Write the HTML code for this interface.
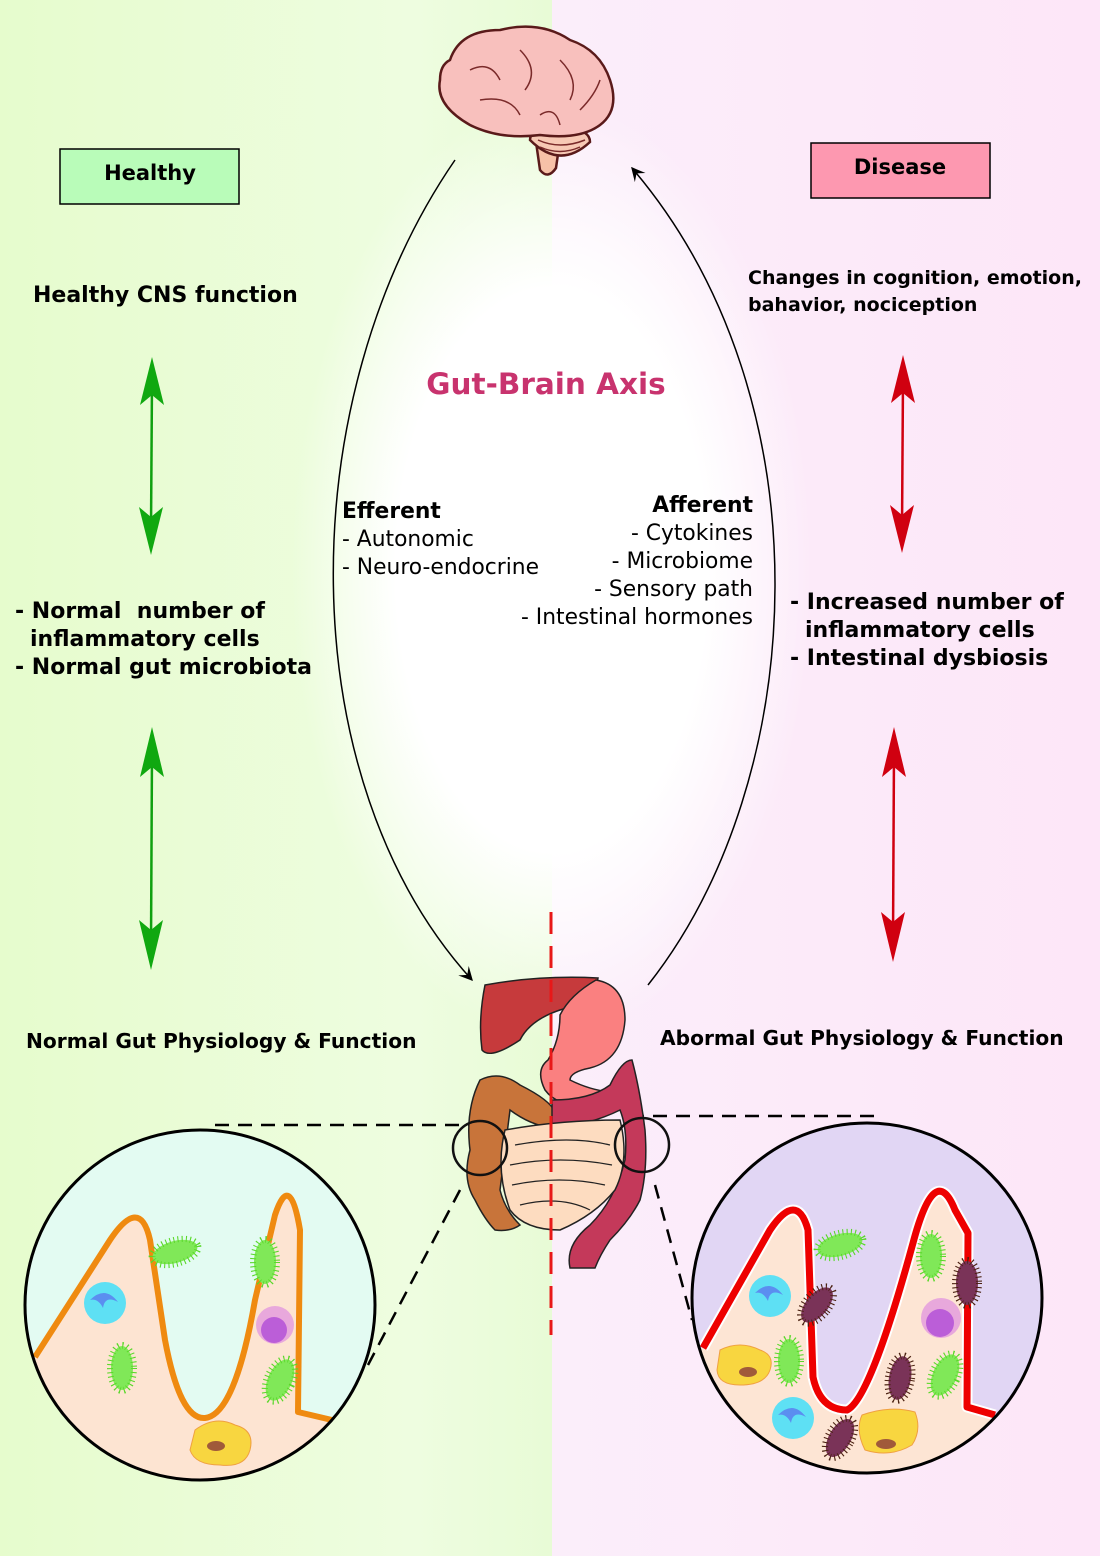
<!DOCTYPE html>
<html><head><meta charset="utf-8"><style>
body{margin:0;width:1100px;height:1556px;overflow:hidden;font-family:"Liberation Sans","DejaVu Sans",sans-serif}
text{font-family:"DejaVu Sans","Liberation Sans",sans-serif}
</style></head><body>
<svg width="1100" height="1556" viewBox="0 0 1100 1556" xmlns="http://www.w3.org/2000/svg">
<defs>
<linearGradient id="gl" x1="0" x2="1"><stop offset="0" stop-color="#e6fccd"/><stop offset="0.75" stop-color="#eefde0"/><stop offset="1" stop-color="#e8fbd6"/></linearGradient>
<linearGradient id="gr" x1="0" x2="1"><stop offset="0" stop-color="#fbeefa"/><stop offset="1" stop-color="#fde6f8"/></linearGradient>
<radialGradient id="glow" cx="0.5" cy="0.5" r="0.5"><stop offset="0.6" stop-color="#fff" stop-opacity="1"/><stop offset="1" stop-color="#fff" stop-opacity="0"/></radialGradient>
<clipPath id="cl"><circle cx="200" cy="1305" r="175"/></clipPath>
<clipPath id="cr"><circle cx="867" cy="1298" r="175"/></clipPath>
<marker id="ah" viewBox="0 0 10 10" refX="9" refY="5" markerWidth="14" markerHeight="14" orient="auto-start-reverse" markerUnits="userSpaceOnUse"><path d="M0,0 L10,5 L0,10 L4,5 Z" fill="#000"/></marker>
</defs>
<rect x="0" y="0" width="552" height="1556" fill="url(#gl)"/>
<rect x="552" y="0" width="548" height="1556" fill="url(#gr)"/>
<ellipse cx="552" cy="570" rx="260" ry="470" fill="url(#glow)"/>
<path d="M455,160 C290,400 290,780 472,980" fill="none" stroke="#000" stroke-width="1.5" marker-end="url(#ah)"/>
<path d="M648,985 C810,780 830,400 632,168" fill="none" stroke="#000" stroke-width="1.5" marker-end="url(#ah)"/>
<g stroke="#5a1a1a" stroke-width="2.5">
<path d="M535,135 L540,170 Q548,180 556,168 L560,140 Z" fill="#f7c1a8"/>
<path d="M530,140 Q560,170 590,142 Q590,128 560,128 Q530,128 530,140 Z" fill="#f7c9b5"/>
<path d="M450,60 Q460,30 500,30 Q540,20 570,40 Q600,50 610,80 Q620,110 600,125 Q580,140 540,135 Q500,140 470,125 Q435,105 440,80 Q440,65 450,60 Z" fill="#f8c0bd"/>
</g>
<g stroke="#7a2a2a" stroke-width="1.5" fill="none"><path d="M470,70 Q490,60 500,80"/><path d="M520,50 Q540,70 525,90"/><path d="M560,60 Q580,80 570,100"/><path d="M480,100 Q510,95 520,115"/><path d="M580,110 Q595,95 600,80"/><path d="M540,115 Q555,105 560,125"/><path d="M538,140 Q560,150 585,140"/><path d="M540,147 Q560,156 580,147"/></g>
<rect x="60" y="149" width="179" height="55" fill="#b9fcb9" stroke="#000" stroke-width="1.5"/>
<text x="150" y="180" font-size="21" font-weight="bold" text-anchor="middle">Healthy</text>
<rect x="811" y="143" width="179" height="55" fill="#fd98b0" stroke="#000" stroke-width="1.5"/>
<text x="900" y="174" font-size="21" font-weight="bold" text-anchor="middle">Disease</text>
<text x="33" y="302" font-size="22" font-weight="bold">Healthy CNS function</text>
<text x="748" y="284" font-size="19" font-weight="bold">Changes in cognition, emotion,</text>
<text x="748" y="311" font-size="19" font-weight="bold">bahavior, nociception</text>
<text x="546" y="394" font-size="29.5" font-weight="bold" fill="#c8336e" text-anchor="middle">Gut-Brain Axis</text>
<g font-size="21.8">
<text x="342" y="518" font-weight="bold">Efferent</text>
<text x="342" y="546">- Autonomic</text>
<text x="342" y="574">- Neuro-endocrine</text>
<text x="753" y="512" font-weight="bold" text-anchor="end">Afferent</text>
<text x="753" y="540" text-anchor="end">- Cytokines</text>
<text x="753" y="568" text-anchor="end">- Microbiome</text>
<text x="753" y="596" text-anchor="end">- Sensory path</text>
<text x="753" y="624" text-anchor="end">- Intestinal hormones</text>
</g>
<g font-size="22" font-weight="bold">
<text x="15" y="618" xml:space="preserve">- Normal  number of</text>
<text x="30" y="646">inflammatory cells</text>
<text x="15" y="674">- Normal gut microbiota</text>
<text x="790" y="609">- Increased number of</text>
<text x="805" y="637">inflammatory cells</text>
<text x="790" y="665">- Intestinal dysbiosis</text>
</g>
<text x="26" y="1048" font-size="20.2" font-weight="bold">Normal Gut Physiology &amp; Function</text>
<text x="660" y="1045" font-size="20.2" font-weight="bold">Abormal Gut Physiology &amp; Function</text>
<g stroke-width="2.5">
<line x1="152" y1="380" x2="151" y2="530" stroke="#10a010"/>
<path d="M152,357 L140,405 L152,395 L164,405 Z M151,555 L139,507 L151,517 L163,507 Z" fill="#10a810"/>
<line x1="152" y1="750" x2="151" y2="945" stroke="#10a010"/>
<path d="M152,727 L140,777 L152,767 L164,777 Z M151,970 L139,920 L151,930 L163,920 Z" fill="#10a810"/>
<line x1="903" y1="378" x2="902" y2="530" stroke="#d00010"/>
<path d="M903,355 L891,403 L903,393 L915,403 Z M902,553 L890,505 L902,515 L914,505 Z" fill="#d00010"/>
<line x1="894" y1="750" x2="893" y2="940" stroke="#d00010"/>
<path d="M894,727 L882,777 L894,767 L906,777 Z M893,962 L881,912 L893,922 L905,912 Z" fill="#d00010"/>
</g>
<g stroke="#000" stroke-width="2.5" stroke-dasharray="14,9" fill="none">
<line x1="215" y1="1125" x2="470" y2="1125"/>
<line x1="460" y1="1190" x2="368" y2="1365"/>
<line x1="630" y1="1116" x2="875" y2="1116"/>
<line x1="655" y1="1185" x2="692" y2="1320"/>
</g>
<g stroke="#222" stroke-width="1.5">
<path d="M485,985 Q540,975 598,978 Q595,1000 560,1010 Q530,1020 520,1040 Q490,1060 482,1050 Q478,1020 485,985 Z" fill="#c63a3c"/>
<path d="M596,980 Q625,985 625,1020 Q622,1060 590,1068 Q570,1072 570,1080 Q590,1090 610,1092 L598,1105 Q560,1110 545,1090 Q535,1070 548,1060 Q560,1040 560,1015 Q570,995 596,980 Z" fill="#fa8080"/>
<path d="M480,1080 Q500,1070 520,1085 Q550,1100 555,1112 L552,1128 Q530,1125 510,1110 L500,1190 Q505,1210 520,1225 Q510,1232 495,1230 Q485,1220 475,1200 Q462,1180 470,1150 Q465,1110 480,1080 Z" fill="#c8743a"/>
<path d="M552,1100 Q590,1100 610,1085 Q622,1060 632,1060 Q640,1090 645,1130 Q648,1170 640,1200 Q630,1220 610,1240 Q600,1255 595,1268 L570,1268 Q565,1245 590,1225 Q615,1200 625,1160 Q628,1130 620,1110 Q590,1125 552,1128 Z" fill="#c4395a"/>
<path d="M505,1130 Q560,1120 620,1120 Q630,1160 615,1190 Q595,1215 560,1230 Q525,1230 510,1210 Q495,1170 505,1130 Z" fill="#fddcc0"/>
</g>
<g stroke="#222" stroke-width="1.2" fill="none"><path d="M515,1145 Q570,1135 610,1145"/><path d="M510,1165 Q560,1155 612,1165"/><path d="M512,1185 Q560,1175 605,1185"/><path d="M520,1205 Q560,1195 590,1210"/></g>
<circle cx="480" cy="1148" r="27" fill="none" stroke="#111" stroke-width="2.5"/>
<circle cx="642" cy="1145" r="27" fill="none" stroke="#111" stroke-width="2.5"/>
<line x1="551" y1="912" x2="551" y2="1335" stroke="#e81818" stroke-width="3" stroke-dasharray="22,12"/>
<g clip-path="url(#cl)">
<rect x="20" y="1125" width="360" height="360" fill="#e3fbf2"/>
<path d="M35,1357 L110,1240 Q140,1195 150,1240 L165,1340 Q180,1420 205,1418 Q235,1415 255,1300 L275,1215 Q290,1170 300,1230 L298,1412 L340,1420 L400,1420 L400,1500 L0,1500 L0,1357 Z" fill="#fde4d2"/>
<path d="M35,1357 L110,1240 Q140,1195 150,1240 L165,1340 Q180,1420 205,1418 Q235,1415 255,1300 L275,1215 Q290,1170 300,1230 L298,1412 L332,1420" fill="none" stroke="#ef8a10" stroke-width="6" stroke-linejoin="round"/>
<circle cx="105" cy="1303" r="21" fill="#5ee0f4"/><path d="M90,1300 Q105,1285 118,1302 Q105,1295 103,1308 Q98,1298 90,1300 Z" fill="#5b8ef0"/>
<circle cx="275" cy="1325" r="19" fill="#e8a8dc"/><circle cx="274" cy="1330" r="13" fill="#bb5ed8"/>
<path d="M195,1430 Q215,1415 235,1425 Q255,1430 250,1450 Q245,1468 220,1465 Q195,1465 190,1450 Z" fill="#f8d640" stroke="#f0a040"/>
<ellipse cx="216" cy="1446" rx="9" ry="5" fill="#a05a3a"/>
<g fill="#80e858" stroke="#58d828" stroke-width="8" stroke-dasharray="1,3">
<ellipse cx="175" cy="1252" rx="23" ry="11" transform="rotate(-15 175 1252)"/>
<ellipse cx="265" cy="1262" rx="11" ry="22"/>
<ellipse cx="122" cy="1368" rx="11" ry="22"/>
<ellipse cx="280" cy="1380" rx="12" ry="22" transform="rotate(25 280 1380)"/>
</g>
<g fill="#80e858"><ellipse cx="175" cy="1252" rx="20" ry="9" transform="rotate(-15 175 1252)"/><ellipse cx="265" cy="1262" rx="9" ry="19"/><ellipse cx="122" cy="1368" rx="9" ry="19"/><ellipse cx="280" cy="1380" rx="10" ry="19" transform="rotate(25 280 1380)"/></g>
</g>
<circle cx="200" cy="1305" r="175" fill="none" stroke="#000" stroke-width="3"/>
<g clip-path="url(#cr)">
<rect x="680" y="1110" width="380" height="380" fill="#e1d6f4"/>
<path d="M703,1348 L770,1230 Q797,1190 808,1230 L813,1377 Q820,1410 847,1410 Q870,1400 913,1243 Q935,1160 955,1210 L968,1233 L967,1407 L995,1415 L1060,1415 L1060,1500 L680,1500 L680,1348 Z" fill="#fde5d4"/>
<path d="M703,1348 L770,1230 Q797,1190 808,1230 L813,1377 Q820,1410 847,1410 Q870,1400 913,1243 Q935,1160 955,1210 L968,1233 L967,1407 L995,1415" fill="none" stroke="#fff" stroke-width="11" stroke-linejoin="round"/>
<path d="M703,1348 L770,1230 Q797,1190 808,1230 L813,1377 Q820,1410 847,1410 Q870,1400 913,1243 Q935,1160 955,1210 L968,1233 L967,1407 L995,1415" fill="none" stroke="#ee0000" stroke-width="7" stroke-linejoin="round"/>
<circle cx="770" cy="1296" r="21" fill="#5ee0f4"/><path d="M755,1293 Q770,1278 783,1295 Q770,1288 768,1301 Q763,1291 755,1293 Z" fill="#5b8ef0"/>
<circle cx="793" cy="1418" r="21" fill="#5ee0f4"/><path d="M778,1415 Q793,1400 806,1417 Q793,1410 791,1423 Q786,1413 778,1415 Z" fill="#5b8ef0"/>
<circle cx="941" cy="1318" r="20" fill="#e8a8dc"/><circle cx="940" cy="1323" r="14" fill="#bb5ed8"/>
<path d="M720,1350 Q740,1340 760,1350 Q775,1355 770,1370 Q765,1385 740,1385 Q718,1385 717,1370 Z" fill="#f8d640" stroke="#f0a040"/>
<ellipse cx="748" cy="1372" rx="9" ry="5" fill="#a05a3a"/>
<path d="M862,1415 Q890,1405 915,1412 Q922,1430 912,1445 Q890,1458 865,1450 Q855,1430 862,1415 Z" fill="#f8d640" stroke="#f0a040"/>
<ellipse cx="886" cy="1444" rx="10" ry="5" fill="#a05a3a"/>
<g fill="#80e858" stroke="#58d828" stroke-width="8" stroke-dasharray="1,3">
<ellipse cx="840" cy="1245" rx="23" ry="11" transform="rotate(-15 840 1245)"/>
<ellipse cx="931" cy="1256" rx="11" ry="22"/>
<ellipse cx="789" cy="1361" rx="11" ry="22"/>
<ellipse cx="945" cy="1375" rx="12" ry="22" transform="rotate(25 945 1375)"/>
</g>
<g fill="#80e858"><ellipse cx="840" cy="1245" rx="20" ry="9" transform="rotate(-15 840 1245)"/><ellipse cx="931" cy="1256" rx="9" ry="19"/><ellipse cx="789" cy="1361" rx="9" ry="19"/><ellipse cx="945" cy="1375" rx="10" ry="19" transform="rotate(25 945 1375)"/></g>
<g fill="#7a3358" stroke="#4a2010" stroke-width="8" stroke-dasharray="1,3">
<ellipse cx="817" cy="1305" rx="11" ry="21" transform="rotate(40 817 1305)"/>
<ellipse cx="967" cy="1283" rx="11" ry="22"/>
<ellipse cx="900" cy="1378" rx="11" ry="22" transform="rotate(10 900 1378)"/>
<ellipse cx="840" cy="1438" rx="11" ry="21" transform="rotate(30 840 1438)"/>
</g>
<g fill="#7a3358"><ellipse cx="817" cy="1305" rx="9" ry="18" transform="rotate(40 817 1305)"/><ellipse cx="967" cy="1283" rx="9" ry="19"/><ellipse cx="900" cy="1378" rx="9" ry="19" transform="rotate(10 900 1378)"/><ellipse cx="840" cy="1438" rx="9" ry="18" transform="rotate(30 840 1438)"/></g>
</g>
<circle cx="867" cy="1298" r="175" fill="none" stroke="#000" stroke-width="3"/>
</svg>
</body></html>
